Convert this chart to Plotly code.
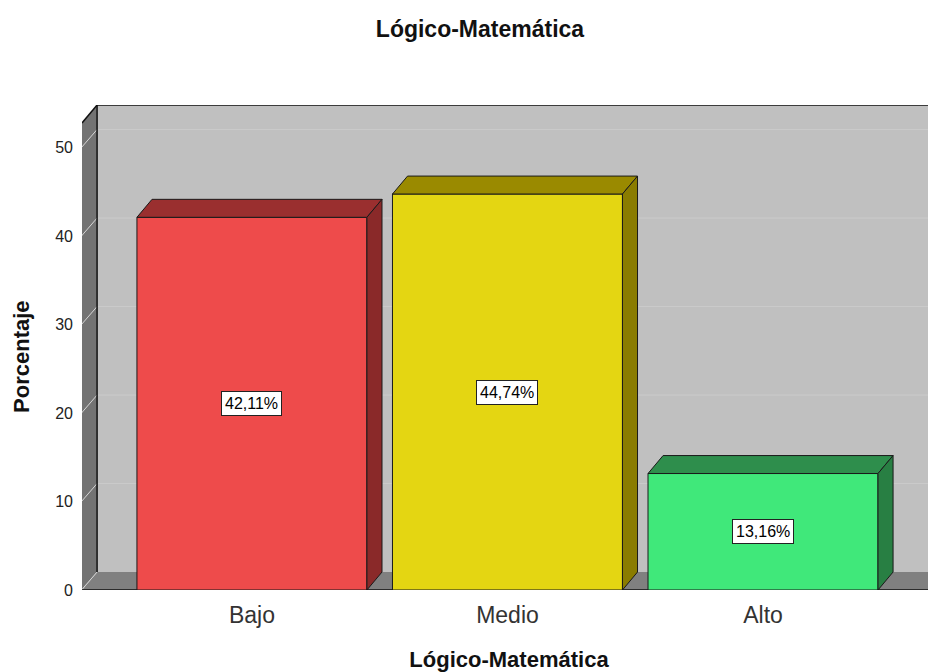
import plotly.graph_objects as go

categories = ["Bajo", "Medio", "Alto"]
percentages = [42.11, 44.74, 13.16]
y_ticks = [0, 10, 20, 30, 40, 50]

front_colors = ["#ee4b4b", "#e4d612", "#40e87a"]
top_colors = ["#9a2f2f", "#9a8a00", "#2e8e4c"]
side_colors = ["#8a2929", "#8a7c00", "#287f43"]

FONT = "Liberation Sans, Arial, sans-serif"
X_MIN, X_MAX = -0.665, 2.677
Y_TOP = 54.8
DX, DY = 0.059, 2.03
BAR_W = 0.9
PAGE_OFFSET = 8  # default body margin of the html page


def box_shape(path, fill, line_color=None, width=0):
    return dict(type="path", path=path, xref="x", yref="y", layer="below",
                fillcolor=fill, line=dict(color=line_color or fill, width=width))


def poly(points):
    return "M " + " L ".join(f"{x},{y}" for x, y in points) + " Z"


def build_figure() -> go.Figure:
    fig = go.Figure()
    shapes = []

    # back wall, left wall and floor
    shapes.append(box_shape(poly([(X_MIN + DX, DY), (X_MAX, DY), (X_MAX, Y_TOP), (X_MIN + DX, Y_TOP)]), "#c0c0c0"))
    shapes.append(box_shape(poly([(X_MIN, 0), (X_MIN + DX, DY), (X_MIN + DX, Y_TOP), (X_MIN, Y_TOP - DY)]), "#737373"))
    shapes.append(box_shape(poly([(X_MIN, 0), (X_MIN + DX, DY), (X_MAX, DY), (X_MAX, 0)]), "#808080"))

    # grid lines on the back wall and the left wall
    for t in y_ticks:
        if t > 0:
            shapes.append(dict(type="line", xref="x", yref="y", layer="below",
                               x0=X_MIN + DX, x1=X_MAX, y0=t + DY, y1=t + DY,
                               line=dict(color="#cbcbcb", width=1)))
        shapes.append(dict(type="line", xref="x", yref="y", layer="below",
                           x0=X_MIN - 0.008, x1=X_MIN + DX, y0=t - 0.2, y1=t + DY,
                           line=dict(color="#d6d6d6", width=1)))

    # edges
    edge = dict(color="#111111", width=1.5)
    shapes.append(dict(type="line", xref="x", yref="y", layer="below",
                       x0=X_MIN + DX, x1=X_MAX, y0=Y_TOP, y1=Y_TOP, line=edge))
    shapes.append(dict(type="line", xref="x", yref="y", layer="below",
                       x0=X_MIN, x1=X_MIN + DX, y0=Y_TOP - DY, y1=Y_TOP, line=edge))
    shapes.append(dict(type="line", xref="x", yref="y", layer="below",
                       x0=X_MIN + DX, x1=X_MIN + DX, y0=DY, y1=Y_TOP, line=edge))
    shapes.append(dict(type="line", xref="x", yref="y", layer="below",
                       x0=X_MIN, x1=X_MAX, y0=0, y1=0, line=edge))

    xs = list(range(len(categories)))
    fig.add_trace(go.Bar(
        x=xs, y=percentages, width=BAR_W,
        marker=dict(color=front_colors, line=dict(color="#1a1a1a", width=1)),
        hoverinfo="skip", showlegend=False,
    ))

    for i, v in enumerate(percentages):
        x0, x1 = i - BAR_W / 2, i + BAR_W / 2
        top = [(x0, v), (x0 + DX, v + DY), (x1 + DX, v + DY), (x1, v), (x0, v)]
        side = [(x1, 0), (x1, v), (x1 + DX, v + DY), (x1 + DX, DY), (x1, 0)]
        for pts, col in ((top, top_colors[i]), (side, side_colors[i])):
            fig.add_trace(go.Scatter(
                x=[p[0] for p in pts], y=[p[1] for p in pts],
                mode="lines", fill="toself", fillcolor=col,
                line=dict(color="#1a1a1a", width=1),
                hoverinfo="skip", showlegend=False,
            ))
        fig.add_annotation(
            x=i, y=v / 2, text=f"{v:.2f}".replace(".", ",") + "%",
            showarrow=False, bgcolor="white", bordercolor="#222222",
            borderwidth=1, borderpad=3, font=dict(family=FONT, size=16, color="black"),
        )

    # y axis title, set a little below the middle of the plot as in the original
    fig.add_annotation(
        text="<b>Porcentaje</b>", textangle=-90, showarrow=False,
        xref="paper", yref="paper", x=-0.0703, y=0.4825,
        xanchor="center", yanchor="middle",
        font=dict(family=FONT, size=22, color="#111111"),
    )

    fig.update_layout(
        width=936, height=672,
        margin=dict(l=82 - PAGE_OFFSET, r=PAGE_OFFSET, t=105 - PAGE_OFFSET, b=82 + PAGE_OFFSET),
        paper_bgcolor="white", plot_bgcolor="white",
        shapes=shapes,
        title=dict(text="<b>Lógico-Matemática</b>", x=(480 - PAGE_OFFSET) / 936, xanchor="center",
                   y=1 - (29 - PAGE_OFFSET) / 672, yanchor="middle",
                   font=dict(family=FONT, size=23, color="#111111")),
        font=dict(family=FONT, color="#222222"),
    )
    fig.update_xaxes(
        range=[X_MIN, X_MAX], tickvals=xs, ticktext=categories,
        showgrid=False, zeroline=False, showline=False, ticks="",
        tickfont=dict(size=23, color="#333333"), ticklabelstandoff=9,
        title=dict(text="<b>Lógico-Matemática</b>", standoff=24,
                   font=dict(family=FONT, size=22, color="#111111")),
        automargin=False, fixedrange=True,
    )
    fig.update_yaxes(
        range=[0, Y_TOP], tickvals=y_ticks,
        showgrid=False, zeroline=False, showline=False, ticks="",
        tickfont=dict(size=16, color="#222222"), ticklabelstandoff=8,
        automargin=False, fixedrange=True,
    )
    return fig


fig = build_figure()
fig.write_html("out.html")
